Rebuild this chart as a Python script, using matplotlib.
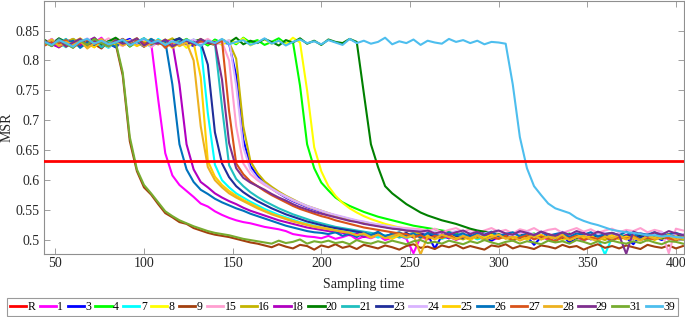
import matplotlib
matplotlib.use("Agg")
import matplotlib.pyplot as plt
import numpy as np

# ---------------- data (MSR values in thousandths) ----------------
sampling_time = list(range(44, 405, 4))   # 44, 48, ..., 404
threshold_R = 0.632

msr_1 = [829, 836, 825, 831, 822, 834, 827, 830, 838, 824, 832, 826, 833, 828, 835,
         830, 735, 645, 608, 592,
         582, 572, 561, 556, 548, 542, 537, 533, 530, 528,
         525, 522, 520, 518, 515, 510, 508, 506, 505, 503,
         507, 502, 505, 509, 501, 506, 503, 508, 500, 504,
         507, 502, 478, 505, 501, 508, 503, 506, 500, 505,
         508, 502, 506, 499, 504, 509, 501, 505, 507, 502,
         506, 500, 504, 508, 502, 505, 499, 506, 503, 507,
         501, 505, 508, 502, 506, 500, 504, 507, 501, 505, 503]
msr_3 = [831, 826, 833, 829, 835, 823, 830, 827, 834, 828, 822, 832, 836, 825, 830, 828, 833, 826, 831, 835,
         829, 824, 832, 827, 834, 830, 828,
         775, 668, 624,
         607, 595, 586, 578, 571, 565, 560, 555, 551, 547,
         543, 540, 537, 534, 531, 528, 526, 524, 522, 520,
         518, 516, 514, 512, 509, 486, 507, 503, 510, 505,
         502, 508, 504, 499, 507, 503, 509, 501, 506, 492,
         505, 509, 502, 507, 496, 504, 508, 501, 506, 503,
         499, 507, 504, 493, 508, 502, 505, 500, 506, 503, 507]
msr_4 = [833, 827, 836, 830, 824, 834, 829, 838, 826, 832, 828, 835, 823, 831, 837, 829, 833, 826,
         834, 830, 836, 828, 832, 825, 835, 829, 833, 827, 838, 830, 834, 826, 831, 837, 828, 831,
         758, 660, 620, 596,
         583, 571, 563, 557, 552, 547, 543, 539, 536, 533,
         530, 527, 524, 522, 520, 518, 516, 514, 512, 511,
         508, 512, 506, 510, 504, 509, 512, 505, 508, 511,
         506, 510, 503, 508, 511, 505, 509, 504, 510, 507,
         503, 509, 506, 511, 504, 508, 502, 507, 510, 505, 508]
msr_7 = [827, 834, 829, 822, 836, 830, 825, 833, 828, 821, 831, 835, 826, 832, 829, 823, 836, 828, 833, 825,
         830, 834,
         826, 712, 626, 600, 588, 578, 571, 564,
         558, 552, 547, 542, 538, 534, 530, 527, 524, 521,
         519, 517, 515, 513, 511, 507, 510, 504, 508, 505,
         509, 503, 507, 510, 504, 508, 502, 506, 509, 503,
         507, 501, 505, 508, 503, 506, 500, 505, 508, 502,
         506, 503, 507, 500, 505, 508, 502, 506, 503, 476,
         504, 508, 502, 506, 500, 505, 509, 503, 507, 501, 505]
msr_8 = [829, 835, 824, 831, 827, 836, 830, 822, 833, 828, 834, 826, 831, 837, 825, 832, 829, 835, 827,
         833, 821, 830, 836, 828, 832, 826, 834, 829, 837, 825, 831, 835, 828, 833, 827, 838, 830,
         750, 655, 615,
         590, 574, 562, 553, 546, 540, 535, 531, 527, 524,
         521, 519, 516, 514, 512, 510, 506, 509, 503, 507,
         504, 508, 501, 506, 509, 503, 507, 500, 505, 508,
         502, 506, 503, 508, 500, 505, 507, 502, 506, 503,
         507, 501, 505, 508, 502, 506, 500, 505, 508, 503, 506]
msr_9 = [826, 833, 822, 829, 836, 824, 831, 827, 820, 832, 828,
         775, 665, 615, 588, 576, 560, 545, 538, 530,
         527, 520, 516, 512, 509, 507, 505, 502, 499, 496,
         494, 491, 488, 493, 489, 486, 492, 490, 484, 491,
         488, 493, 487, 490, 485, 492, 489, 486, 491, 488,
         484, 490, 493, 487, 489, 485, 491, 488, 492, 486,
         490, 487, 484, 491, 489, 493, 486, 490, 488, 485,
         491, 489, 486, 492, 488, 490, 484, 489, 493, 487,
         490, 486, 491, 488, 485, 492, 489, 487, 491, 486, 490]
msr_15 = [834, 828, 823, 831, 836, 827, 832, 825, 830, 837, 829, 824, 833, 828, 835, 822, 831, 827, 834, 829,
          826, 833, 830, 836, 828, 831,
          800, 690, 628, 610,
          600, 592, 585, 578, 572, 566, 561, 556, 552, 548,
          544, 541, 538, 535, 532, 530, 528, 526, 524, 522,
          521, 520, 519, 518, 515, 519, 513, 517, 520, 514,
          518, 512, 516, 520, 514, 517, 511, 518, 515, 520,
          513, 517, 519, 512, 516, 520, 514, 518, 512, 516,
          519, 513, 517, 515, 520, 513, 517, 514, 478, 519, 516]
msr_16 = [828, 834, 825, 831, 836, 829, 823, 833, 827, 830, 835, 826, 832, 829, 824, 834, 828, 831, 837, 826,
          830, 833, 825, 832, 828, 835, 830,
          803, 690, 632,
          612, 598, 589, 581, 574, 568, 562, 557, 553, 549,
          545, 541, 538, 535, 532, 529, 527, 524, 522, 520,
          518, 516, 514, 510, 506, 509, 503, 508, 505, 501,
          507, 503, 509, 502, 506, 504, 500, 507, 503, 508,
          501, 506, 503, 508, 500, 505, 502, 507, 504, 500,
          506, 502, 508, 503, 505, 499, 506, 502, 507, 504, 501]
msr_18 = [833, 827, 822, 835, 829, 825, 832, 838, 826, 830, 824, 833, 828, 836, 823, 831, 827, 834, 830,
          760,
          660, 618, 597, 588, 578, 571, 565, 560, 554, 549,
          545, 541, 537, 533, 530, 527, 524, 521, 519, 517,
          515, 513, 512, 508, 511, 505, 509, 512, 506, 510,
          507, 511, 504, 509, 512, 506, 510, 503, 508, 511,
          505, 509, 512, 507, 504, 510, 508, 513, 505, 509,
          511, 506, 509, 504, 510, 507, 512, 505, 509, 506,
          510, 504, 508, 511, 506, 509, 503, 510, 507, 505, 509]
msr_20 = [834, 828, 837, 831, 825, 833, 829, 836, 827, 832, 838, 830, 826, 834, 829, 835, 831, 824, 833, 837,
          828, 832, 835, 829, 826, 834, 830, 838, 827, 833, 829, 836, 831, 825, 834, 830, 837, 828, 833, 826,
          835, 831, 829, 836, 831,
          745, 660, 622, 590, 578,
          569, 560, 553, 546, 541, 537, 533, 530, 527, 523,
          519, 516, 514, 512, 510, 508, 504, 509, 506, 510,
          505, 508, 503, 507, 510, 504, 508, 506, 502, 507,
          509, 504, 507, 503, 508, 505, 510, 503, 507, 505, 508]
msr_21 = [826, 833, 829, 836, 824, 830, 827, 835, 822, 831, 828, 834, 825, 830, 837, 826, 832, 829, 823, 833,
          828, 835, 826, 831, 829,
          722, 625, 602, 590, 580,
          572, 565, 559, 553, 548, 543, 539, 535, 531, 528,
          525, 522, 520, 518, 516, 514, 512, 510, 507, 510,
          504, 508, 511, 505, 509, 503, 507, 510, 504, 508,
          506, 510, 503, 507, 509, 504, 508, 505, 510, 503,
          507, 504, 509, 506, 502, 508, 505, 510, 504, 507,
          503, 508, 505, 509, 502, 507, 504, 508, 506, 503, 507]
msr_23 = [831, 825, 834, 828, 822, 835, 830, 826, 833, 829, 824, 836, 827, 831, 823, 834, 829, 826, 832, 837,
          828, 833, 830,
          793, 680, 628, 605, 590, 580, 572,
          565, 559, 553, 548, 543, 539, 535, 531, 528, 525,
          522, 520, 518, 516, 514, 512, 508, 511, 506, 510,
          507, 512, 505, 509, 511, 504, 508, 510, 506, 503,
          509, 506, 511, 504, 508, 510, 505, 509, 503, 507,
          510, 505, 508, 503, 509, 506, 511, 504, 508, 505,
          509, 503, 507, 510, 505, 508, 504, 509, 506, 502, 507]
msr_24 = [829, 835, 826, 832, 824, 830, 837, 828, 833, 822, 831, 827, 834, 829, 825, 836, 830, 827, 833, 824,
          831, 835, 828, 832, 826, 830, 834,
          758, 655, 618,
          603, 594, 586, 579, 573, 567, 562, 557, 553, 549,
          545, 542, 539, 536, 533, 531, 528, 526, 524, 522,
          520, 518, 517, 515, 511, 514, 508, 512, 515, 509,
          513, 507, 511, 514, 508, 512, 506, 511, 514, 509,
          512, 507, 510, 514, 508, 511, 506, 513, 509, 512,
          507, 511, 514, 508, 512, 506, 510, 513, 508, 511, 509]
msr_25 = [832, 826, 834, 823, 830, 837, 828, 822, 833, 829, 826, 835, 831, 824, 830, 836, 827, 833, 821, 829,
          834,
          830, 772, 632, 606, 592, 582, 574, 567, 561,
          555, 549, 544, 540, 536, 532, 529, 526, 523, 521,
          519, 516, 514, 512, 508, 510, 504, 509, 506, 502,
          508, 505, 510, 503, 507, 501, 506, 509, 503, 505,
          500, 507, 504, 509, 502, 506, 503, 508, 501, 505,
          509, 502, 506, 500, 505, 508, 503, 507, 501, 504,
          508, 502, 506, 503, 500, 507, 504, 509, 502, 506, 503]
msr_26 = [831, 824, 836, 829, 833, 821, 830, 826, 835, 828, 823, 834, 827, 831, 825, 836, 829, 832,
          760, 660,
          618, 597, 584, 577, 569, 563, 558, 553, 549, 544,
          540, 536, 532, 528, 524, 521, 518, 515, 513, 512,
          510, 513, 507, 511, 505, 512, 508, 514, 506, 510,
          513, 507, 511, 504, 512, 509, 506, 513, 508, 511,
          505, 512, 509, 514, 507, 510, 513, 506, 511, 508,
          514, 507, 510, 512, 505, 511, 509, 513, 506, 510,
          512, 508, 514, 507, 511, 509, 513, 506, 510, 512, 508]
msr_27 = [825, 831, 828, 834, 822, 829, 835, 827, 832, 826, 830, 836, 824, 833, 829, 827, 834, 821, 831, 828,
          835, 826, 832, 830, 827, 833,
          715, 628, 610, 598,
          590, 582, 575, 569, 563, 557, 552, 548, 544, 540,
          537, 533, 530, 527, 524, 521, 519, 517, 515, 513,
          511, 510, 505, 508, 502, 507, 504, 509, 501, 506,
          503, 508, 500, 505, 502, 507, 499, 504, 508, 501,
          506, 502, 498, 505, 503, 507, 500, 504, 502, 506,
          499, 505, 502, 507, 500, 504, 501, 506, 503, 499, 505]
msr_28 = [828, 835, 824, 831, 827, 833, 820, 829, 836, 826, 832, 825, 830, 837, 823, 829, 834, 827, 831, 824,
          830, 800, 690, 622, 600, 588, 578, 571, 565, 559,
          553, 548, 543, 539, 535, 531, 528, 525, 522, 520,
          518, 516, 514, 512, 508, 511, 505, 509, 503, 507,
          510, 504, 508, 476, 506, 502, 509, 505, 501, 507,
          503, 508, 500, 505, 509, 502, 506, 499, 504, 508,
          501, 506, 503, 509, 500, 505, 507, 502, 498, 506,
          503, 508, 501, 505, 499, 507, 502, 504, 509, 501, 505]
msr_29 = [832, 827, 835, 823, 830, 836, 826, 833, 829, 824, 834, 828, 831, 837, 825, 832, 828, 835, 823, 830,
          833, 827, 836, 829, 831,
          768, 662, 620, 604, 596,
          590, 584, 577, 571, 566, 560, 555, 551, 547, 544,
          541, 538, 535, 532, 530, 527, 525, 523, 521, 519,
          518, 516, 515, 514, 516, 511, 514, 509, 513, 516,
          510, 514, 508, 513, 516, 511, 509, 515, 512, 508,
          514, 510, 507, 513, 509, 515, 511, 508, 514, 510,
          512, 508, 477, 514, 510, 507, 513, 509, 515, 511, 508]
msr_31 = [830, 824, 835, 828, 821, 833, 826, 836, 829, 823, 831,
          780, 672, 618, 592, 578, 563, 548, 540, 533,
          528, 523, 519, 515, 512, 510, 508, 505, 502, 500,
          498, 496, 494, 499, 495, 497, 501, 494, 498, 496,
          499, 495, 497, 493, 500, 496, 494, 498, 495, 499,
          496, 493, 498, 500, 495, 497, 494, 499, 496, 493,
          498, 495, 500, 496, 493, 497, 499, 494, 498, 496,
          493, 499, 496, 498, 494, 500, 497, 493, 498, 495,
          499, 496, 494, 498, 495, 500, 496, 493, 498, 497, 494]
msr_39 = [831, 826, 834, 829, 823, 832, 836, 828, 833, 827,
          830, 835, 825, 831, 837, 829, 833, 826, 832, 828,
          835, 830, 824, 833, 829, 836, 827, 831, 834, 826,
          830, 837, 828, 833, 825, 831, 835, 829, 832, 827,
          834, 830, 826, 836, 829, 833, 828, 831, 838, 827,
          832, 829, 835, 826, 833, 830, 828, 836, 831, 834,
          829, 833, 827, 831, 830, 828,
          760, 672, 620, 590, 575, 561, 553, 549, 545, 537,
          532, 528, 525, 521, 517, 515, 513, 512, 510, 508,
          508, 506, 507, 505, 504]

series_labels = ["1", "3", "4", "7", "8", "9", "15", "16", "18", "20",
                 "21", "23", "24", "25", "26", "27", "28", "29", "31", "39"]
series_values = [msr_1, msr_3, msr_4, msr_7, msr_8, msr_9, msr_15, msr_16, msr_18, msr_20,
                 msr_21, msr_23, msr_24, msr_25, msr_26, msr_27, msr_28, msr_29, msr_31, msr_39]
series_colors = ["#FF00FF", "#0000FF", "#00FF00", "#00FFFF", "#FFFF00", "#A2400E", "#FF9FD0",
                 "#C4B400", "#B000C0", "#008000", "#20BFBF", "#202E9A", "#D9B3FF", "#FFD000",
                 "#0072BD", "#D95319", "#EDB120", "#7E2F8E", "#77AC30", "#4DBEEE"]

ytick_values = [0.5, 0.55, 0.6, 0.65, 0.7, 0.75, 0.8, 0.85]
ytick_labels = ["0.5", "0.55", "0.6", "0.65", "0.7", "0.75", "0.8", "0.85"]
xtick_values = [50, 100, 150, 200, 250, 300, 350, 400]

bad = [(l, len(v)) for l, v in zip(series_labels, series_values) if len(v) != len(sampling_time)]
assert not bad, f"length mismatch: {bad} vs {len(sampling_time)}"

# ---------------- figure ----------------
plt.rcParams["font.family"] = ["Liberation Serif", "DejaVu Serif"]
W, H = 685, 317
fig = plt.figure(figsize=(W / 100, H / 100), dpi=100)
ax = fig.add_axes([44 / W, 1 - 254 / H, (683.5 - 44) / W, (254 - 0.6) / H])

t = np.array(sampling_time)
handles = []
hR = ax.axhline(threshold_R, color="#FF0000", lw=2.0, label="R", zorder=5)
handles.append(hR)
for lab, vals, col in zip(series_labels, series_values, series_colors):
    h, = ax.plot(t, np.array(vals) / 1000.0, color=col, lw=1.5, label=lab, zorder=2)
    handles.append(h)

ax.set_xlim(43.6, 404.3)
ax.set_ylim(0.4767, 0.90)
ax.set_xticks(xtick_values)
ax.set_yticks(ytick_values)
ax.set_yticklabels(ytick_labels)

for sp in ax.spines.values():
    sp.set_color("#8f8f8f")
    sp.set_linewidth(0.8)
ax.tick_params(direction="in", top=True, right=True, length=4.3, width=0.6,
               color="#8f8f8f", labelsize=10, labelcolor="#262626")
ax.tick_params(axis="x", pad=2.5)
ax.tick_params(axis="y", pad=3.0)

ax.set_xlabel("Sampling time", fontsize=10, color="#262626")
ax.set_ylabel("MSR", fontsize=10, color="#262626")
ax.xaxis.set_label_coords(0.5, -0.095)
ax.yaxis.set_label_coords(-0.048, 0.5)

leg = fig.legend(handles=handles, labels=["R"] + series_labels, loc="lower center",
                 bbox_to_anchor=(0.5, 0.003), ncol=len(handles), fontsize=8.5,
                 handlelength=1.38, handletextpad=0.12, columnspacing=0.36,
                 borderpad=0.25, borderaxespad=0.0, fancybox=False, framealpha=1.0)
leg.get_frame().set_edgecolor("#9a9a9a")
leg.get_frame().set_linewidth(0.8)
for line in leg.get_lines():
    line.set_linewidth(2.0)

fig.savefig("out.png", dpi=100)
